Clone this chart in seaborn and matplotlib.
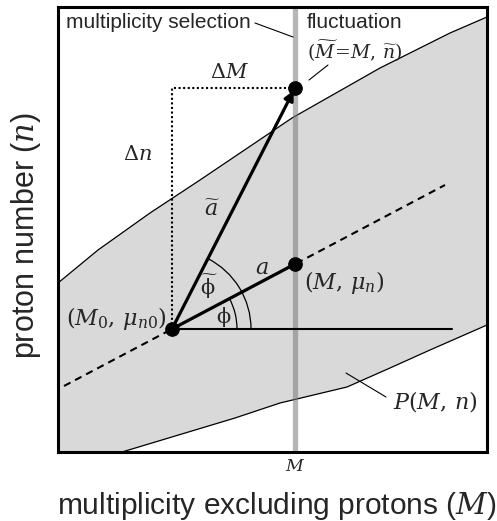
import numpy as np
import pandas as pd
import matplotlib
matplotlib.use("Agg")
import matplotlib.pyplot as plt
import seaborn as sns
from matplotlib.patches import Arc

# ---- data (axes units) ----
upper_x = [0, 40, 92, 142, 234, 322, 392, 429]
upper_y = [169, 202, 239, 272, 334, 384, 419, 435]
lower_x = [0, 64, 177, 222, 289, 332, 372, 429]
lower_y = [-19, 0, 34, 49, 65, 84, 102, 127]
origin = [114, 123]          # (M0, mu_n0)
mean_pt = [237, 188]         # (M, mu_n)
fluct_pt = [237, 364]        # (M~=M, n~)
sel_M = 237                  # multiplicity selection position
dash_x = [6, 387]
dash_y = [66, 267]
horiz_end = 394
r_phi, r_phit = 65, 79
x_lim, y_lim = 429, 445

sns.set_theme(style="white")
plt.rcParams["font.family"] = ["Liberation Sans", "DejaVu Sans"]
plt.rcParams["mathtext.fontset"] = "dejavuserif"

fig = plt.figure(figsize=(4.97, 5.21), dpi=100)
ax = fig.add_axes([58/497, 69/521, 429/497, 445/521])
ax.set_xlim(0, x_lim)
ax.set_ylim(0, y_lim)

# band P(M,n)
poly_x = upper_x + [x_lim] + lower_x[::-1]
poly_y = upper_y + [lower_y[-1]] + lower_y[::-1]
ax.fill(poly_x, poly_y, color="#d9d9d9", lw=0, zorder=1)
band = pd.DataFrame({"x": upper_x, "y": upper_y})
sns.lineplot(data=band, x="x", y="y", ax=ax, color="black", lw=0.9, sort=False, zorder=2)
band_l = pd.DataFrame({"x": lower_x, "y": lower_y})
sns.lineplot(data=band_l, x="x", y="y", ax=ax, color="black", lw=0.9, sort=False, zorder=2)

# selection line
ax.axvline(sel_M, color="#7a7a7a", alpha=0.55, lw=3.8, zorder=3)

# dashed mean line
ax.plot(dash_x, dash_y, ls=(0, (3.5, 2.5)), color="black", lw=1.5, zorder=4)
# horizontal line
ax.plot([origin[0], horiz_end], [origin[1], origin[1]], color="black", lw=1.5, zorder=4)
# dotted lines
ax.plot([origin[0], origin[0], fluct_pt[0]], [origin[1], fluct_pt[1], fluct_pt[1]],
        ls=(0, (1, 1.2)), color="black", lw=1.5, zorder=4)

# arcs
phi = np.degrees(np.arctan2(mean_pt[1]-origin[1], mean_pt[0]-origin[0]))
phit = np.degrees(np.arctan2(fluct_pt[1]-origin[1], fluct_pt[0]-origin[0]))
ax.add_patch(Arc(origin, 2*r_phi, 2*r_phi, theta1=0, theta2=phi, color="black", lw=0.9, zorder=4))
ax.add_patch(Arc(origin, 2*r_phit, 2*r_phit, theta1=0, theta2=phit, color="black", lw=0.9, zorder=4))

# vectors a and a~
ax.plot([origin[0], mean_pt[0]], [origin[1], mean_pt[1]], color="black", lw=2.3, zorder=5)
ax.annotate("", xy=fluct_pt, xytext=origin,
            arrowprops=dict(arrowstyle="-|>", lw=2.3, color="black",
                            mutation_scale=14, shrinkA=0, shrinkB=2),
            zorder=5)

pts = pd.DataFrame({"x": [origin[0], mean_pt[0], fluct_pt[0]],
                    "y": [origin[1], mean_pt[1], fluct_pt[1]]})
sns.scatterplot(data=pts, x="x", y="y", ax=ax, color="black", s=95, edgecolor="black", zorder=6)

# leader lines
ax.plot([197, 235], [429, 415], color="black", lw=0.8, zorder=4)
ax.plot([270, 251], [387, 372], color="black", lw=0.8, zorder=4)
ax.plot([288, 328], [79, 55], color="black", lw=0.8, zorder=4)

# texts
ax.text(8, 430, "multiplicity selection", fontsize=15, ha="left", va="center", zorder=7)
ax.text(249, 429, "fluctuation", fontsize=15, ha="left", va="center", zorder=7)
ax.text(297, 401, r"$(\widetilde{M}\!=\!M,\,\widetilde{n})$", fontsize=13.5, ha="center", va="center", zorder=7)
ax.text(171, 380, r"$\Delta M$", fontsize=15, ha="center", va="center", zorder=7)
ax.text(80, 298, r"$\Delta n$", fontsize=15, ha="center", va="center", zorder=7)
ax.text(154, 241, r"$\widetilde{a}$", fontsize=16, ha="center", va="center", zorder=7)
ax.text(204, 184, r"$a$", fontsize=16, ha="center", va="center", zorder=7)
ax.text(151, 165, r"$\widetilde{\mathrm{\phi}}$", fontsize=15, ha="center", va="center", zorder=7)
ax.text(166, 135, r"$\mathrm{\phi}$", fontsize=15, ha="center", va="center", zorder=7)
ax.text(58, 133, r"$(M_0,\,\mu_{n0})$", fontsize=16, ha="center", va="center", zorder=7)
ax.text(286, 170, r"$(M,\,\mu_n)$", fontsize=16, ha="center", va="center", zorder=7)
ax.text(377, 51, r"$P(M,\,n)$", fontsize=16, ha="center", va="center", zorder=7)

ax.set_xticks([sel_M])
ax.set_xticklabels([r"$M$"], fontsize=12.5)
ax.set_yticks([])
ax.tick_params(axis="x", length=0, pad=4)
ax.set_xlabel("")
ax.set_ylabel("")
for s in ax.spines.values():
    s.set_color("black")
    s.set_linewidth(2.2)
    s.set_zorder(8)

fig.text(277/497, 1-506/521, r"multiplicity excluding protons ($M$)", fontsize=21.5,
         ha="center", va="center")
fig.text(26/497, 1-235/521, r"proton number ($n$)", fontsize=22, rotation=90,
         ha="center", va="center")

fig.savefig("out.png", dpi=100)
